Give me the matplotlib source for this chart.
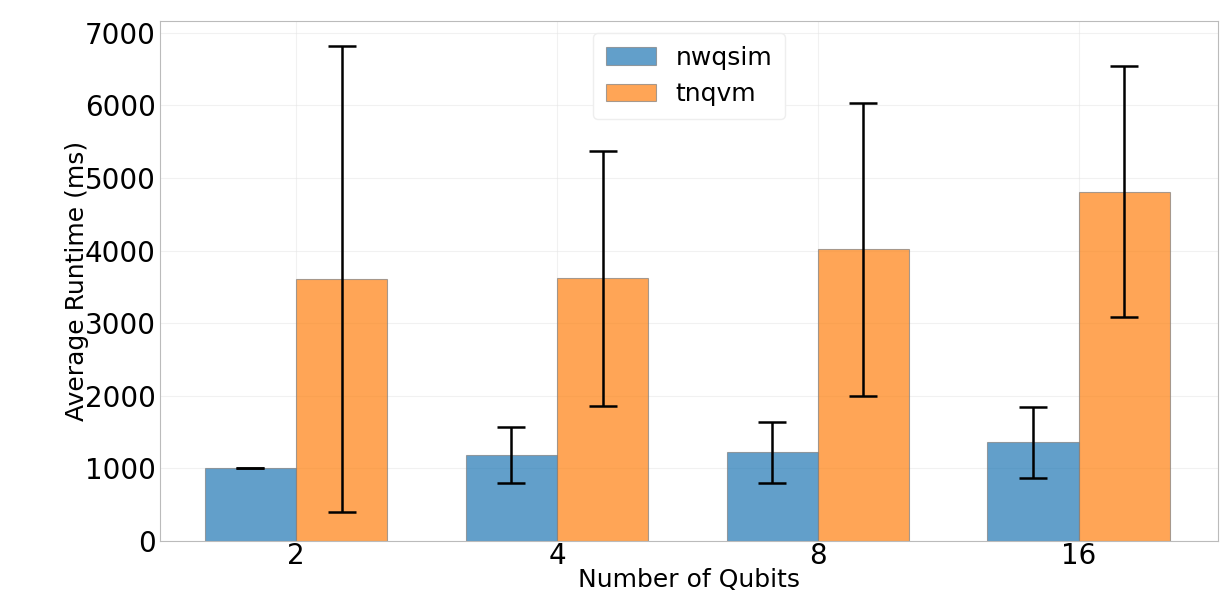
import numpy as np
import matplotlib.pyplot as plt

# Average runtime per qubit count, with standard deviations
qubits = ['2', '4', '8', '16']
nwqsim_mean = [1005, 1185, 1220, 1357]
nwqsim_std = [5, 386, 420, 489]
tnqvm_mean = [3610, 3617, 4017, 4814]
tnqvm_std = [3212, 1757, 2019, 1732]

x = np.arange(len(qubits))
width = 0.35

fig, ax = plt.subplots(figsize=(12.21, 5.91), dpi=100)
fig.subplots_adjust(left=0.131, right=0.9975, top=0.9645, bottom=0.0846)

err_kw = dict(ecolor='black', elinewidth=1.8, capthick=1.8)
ax.bar(x - width / 2, nwqsim_mean, width, yerr=nwqsim_std, capsize=10,
       label='nwqsim', color='tab:blue', alpha=0.7, edgecolor='gray',
       linewidth=0.8, error_kw=err_kw)
ax.bar(x + width / 2, tnqvm_mean, width, yerr=tnqvm_std, capsize=10,
       label='tnqvm', color='tab:orange', alpha=0.7, edgecolor='gray',
       linewidth=0.8, error_kw=err_kw)

ax.set_xticks(x)
ax.set_xticklabels(qubits)
ax.set_xlim(-0.522, 3.534)
ax.tick_params(axis='x', labelsize=20, length=0, pad=1)
ax.tick_params(axis='y', labelsize=20, length=0, pad=3)
ax.set_xlabel('Number of Qubits', fontsize=18, labelpad=-2)
ax.set_ylabel('Average Runtime (ms)', fontsize=18, labelpad=-3)

ax.grid(True, color='#e4e4e4', alpha=0.5, linewidth=0.8)
ax.set_axisbelow(True)
for s in ax.spines.values():
    s.set_color('#bbbbbb')

ax.legend(loc='upper center', fontsize=18, framealpha=1, edgecolor='#eeeeee',
          borderpad=0.5)

plt.savefig('out.png', dpi=100)
